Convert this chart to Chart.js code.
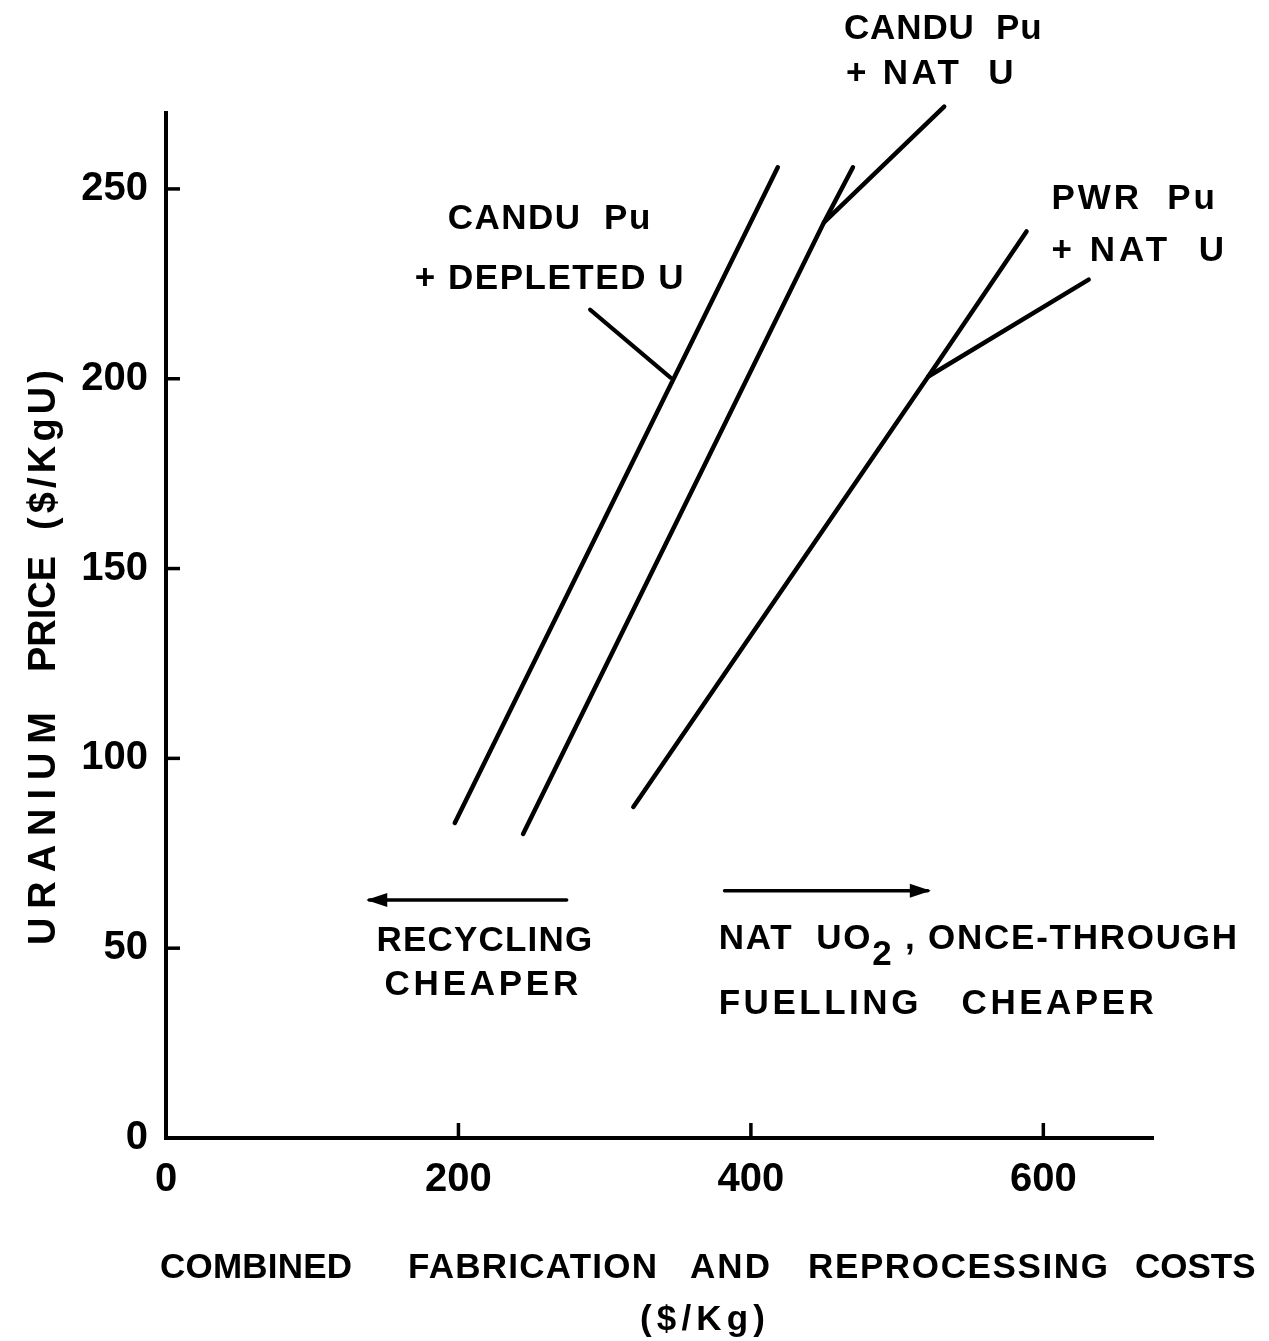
<!DOCTYPE html>
<html lang="en">
<head>
    <meta charset="UTF-8">
    <title>Uranium price vs combined fabrication and reprocessing costs</title>
    <script src="https://cdn.jsdelivr.net/npm/chart.js"></script>
    <style>
        html, body { margin: 0; padding: 0; background: #fff; }
        .wrap { width: 1269px; height: 1341px; }
    </style>
</head>
<body>
    <div class="wrap"><canvas id="wykres"></canvas></div>

    <script>
        // values: x = $/Kg, y = $/KgU
        const xTicks = [0, 200, 400, 600];
        const yTicks = [0, 50, 100, 150, 200, 250];

        const canduDepletedX = [197.5, 418.4];
        const canduDepletedY = [83, 255.7];

        const canduNatX = [244.2, 450, 469.8];
        const canduNatY = [80.1, 241.2, 255.7];
        const canduNatBranchX = [450, 532.2];
        const canduNatBranchY = [241.2, 271.7];

        const pwrNatX = [319.6, 521.3, 588.5];
        const pwrNatY = [87.2, 200.6, 238.8];
        const pwrNatBranchX = [521.3, 631];
        const pwrNatBranchY = [200.6, 226.1];

        // pointer from the "+ DEPLETED U" label to its line
        const leaderX = [290, 345];
        const leaderY = [218.2, 200.3];

        // the two "cheaper" arrows
        const arrowLeftX = [274, 139];
        const arrowLeftY = [62.7, 62.7];
        const arrowRightX = [382, 521];
        const arrowRightY = [65.1, 65.1];

        const FONT = '"Liberation Sans", Arial, sans-serif';

        function pts(xs, ys) {
            return xs.map((v, i) => ({ x: v, y: ys[i] }));
        }

        function line(xs, ys) {
            return {
                data: pts(xs, ys),
                showLine: true,
                borderColor: '#000',
                backgroundColor: '#000',
                borderWidth: 4.5,
                borderCapStyle: 'round',
                borderJoinStyle: 'round',
                pointRadius: 0,
                clip: false
            };
        }

        // draw text stretched (letter spacing) to fill x0..x1, centred on cy
        function fitText(ctx, parts, x0, x1, cy, size) {
            ctx.font = 'bold ' + size + 'px ' + FONT;
            ctx.letterSpacing = '0px';
            let natural = 0, chars = 0;
            parts.forEach(p => { natural += ctx.measureText(p.t).width; chars += p.t.length; });
            const sp = Math.max(0, (x1 - x0 - natural) / Math.max(1, chars - 1));
            ctx.letterSpacing = sp + 'px';
            ctx.textBaseline = 'middle';
            ctx.textAlign = 'left';
            let cx = x0;
            parts.forEach(p => {
                ctx.fillText(p.t, cx, cy + (p.dy || 0));
                ctx.letterSpacing = '0px';
                cx += ctx.measureText(p.t).width + sp * p.t.length;
                ctx.letterSpacing = sp + 'px';
            });
            ctx.letterSpacing = '0px';
        }

        const notes = [
            { parts: [{ t: 'CANDU  Pu' }], x0: 192.7, x1: 331.2, y: 242 },
            { parts: [{ t: '+ DEPLETED U' }], x0: 170.1, x1: 353.9, y: 226.1 },
            { parts: [{ t: 'CANDU  Pu' }], x0: 463.6, x1: 598.8, y: 292 },
            { parts: [{ t: '+ NAT  U' }], x0: 465, x1: 579.6, y: 280.2 },
            { parts: [{ t: 'PWR  Pu' }], x0: 605.6, x1: 717.4, y: 247.2 },
            { parts: [{ t: '+ NAT  U' }], x0: 605.6, x1: 723.6, y: 233.5 },
            { parts: [{ t: 'RECYCLING' }], x0: 144, x1: 291.5, y: 51.7 },
            { parts: [{ t: 'CHEAPER' }], x0: 149.5, x1: 281.9, y: 40.3 },
            { parts: [{ t: 'NAT  UO' }, { t: '2', dy: 16 }, { t: ' , ONCE-THROUGH' }], x0: 378, x1: 732.5, y: 52.2 },
            { parts: [{ t: 'FUELLING   CHEAPER' }], x0: 378, x1: 675.6, y: 35.1 }
        ];

        const xTitle = [
            { t: 'COMBINED', x0: 160, x1: 352, y: 1268 },
            { t: 'FABRICATION', x0: 408, x1: 657, y: 1268 },
            { t: 'AND', x0: 690, x1: 770, y: 1268 },
            { t: 'REPROCESSING', x0: 808, x1: 1108, y: 1268 },
            { t: 'COSTS', x0: 1135, x1: 1252, y: 1268 },
            { t: '($/Kg)', x0: 640, x1: 765, y: 1320 }
        ];
        const yTitle = [
            { t: 'URANIUM', y0: 945, y1: 712 },
            { t: 'PRICE', y0: 672, y1: 563 },
            { t: '($/KgU)', y0: 530, y1: 370 }
        ];

        const extras = {
            id: 'extras',
            afterDraw(chart) {
                const { ctx, chartArea: a } = chart;
                const x = chart.scales.x, y = chart.scales.y;
                ctx.save();
                ctx.strokeStyle = '#000';
                ctx.fillStyle = '#000';

                // tick marks point into the plot
                ctx.lineWidth = 3.5;
                x.ticks.forEach(t => {
                    if (t.value === 0) return;
                    const px = x.getPixelForValue(t.value);
                    ctx.beginPath(); ctx.moveTo(px, a.bottom); ctx.lineTo(px, a.bottom - 15); ctx.stroke();
                });
                y.ticks.forEach(t => {
                    if (t.value === 0) return;
                    const py = y.getPixelForValue(t.value);
                    ctx.beginPath(); ctx.moveTo(a.left, py); ctx.lineTo(a.left + 14, py); ctx.stroke();
                });

                // arrow heads on the last point of the arrow datasets
                [6, 7].forEach(i => {
                    const d = chart.data.datasets[i].data;
                    const p0 = d[d.length - 2], p1 = d[d.length - 1];
                    const x0 = x.getPixelForValue(p0.x), y0 = y.getPixelForValue(p0.y);
                    const x1 = x.getPixelForValue(p1.x), y1 = y.getPixelForValue(p1.y);
                    const ang = Math.atan2(y1 - y0, x1 - x0);
                    ctx.save();
                    ctx.translate(x1, y1);
                    ctx.rotate(ang);
                    ctx.beginPath();
                    ctx.moveTo(3, 0); ctx.lineTo(-18, -7); ctx.lineTo(-18, 7); ctx.closePath();
                    ctx.fill();
                    ctx.restore();
                });

                notes.forEach(n => {
                    fitText(ctx, n.parts, x.getPixelForValue(n.x0), x.getPixelForValue(n.x1), y.getPixelForValue(n.y), 35);
                });

                xTitle.forEach(w => fitText(ctx, [{ t: w.t }], w.x0, w.x1, w.y, 35));

                ctx.save();
                ctx.translate(45, 0);
                ctx.rotate(-Math.PI / 2);
                yTitle.forEach(w => fitText(ctx, [{ t: w.t }], -w.y0, -w.y1, 0, 38));
                ctx.restore();

                ctx.restore();
            }
        };

        const tickFont = { family: FONT, size: 40, weight: 'bold' };

        new Chart(document.getElementById('wykres'), {
            type: 'scatter',
            data: {
                datasets: [
                    line(canduDepletedX, canduDepletedY),
                    line(canduNatX, canduNatY),
                    line(canduNatBranchX, canduNatBranchY),
                    line(pwrNatX, pwrNatY),
                    line(pwrNatBranchX, pwrNatBranchY),
                    Object.assign(line(leaderX, leaderY), { borderWidth: 4 }),
                    Object.assign(line(arrowLeftX, arrowLeftY), { borderWidth: 3.5 }),
                    Object.assign(line(arrowRightX, arrowRightY), { borderWidth: 3.5 })
                ]
            },
            options: {
                responsive: true,
                maintainAspectRatio: false,
                animation: false,
                layout: { padding: { left: 0, top: 113, right: 116, bottom: 0 } },
                plugins: {
                    legend: { display: false },
                    tooltip: { enabled: false }
                },
                scales: {
                    x: {
                        type: 'linear',
                        min: 0,
                        max: 675,
                        grid: { display: false },
                        border: { display: true, color: '#000', width: 4 },
                        afterBuildTicks: s => { s.ticks = xTicks.map(v => ({ value: v })); },
                        afterFit: s => { s.height = 203; },
                        ticks: { color: '#000', font: tickFont, padding: 10, maxRotation: 0 }
                    },
                    y: {
                        type: 'linear',
                        min: 0,
                        max: 270,
                        grid: { display: false },
                        border: { display: true, color: '#000', width: 4 },
                        afterBuildTicks: s => { s.ticks = yTicks.map(v => ({ value: v })); },
                        afterFit: s => { s.width = 166; },
                        ticks: { color: '#000', font: tickFont, padding: 10 }
                    }
                }
            },
            plugins: [extras]
        });
    </script>
</body>
</html>
